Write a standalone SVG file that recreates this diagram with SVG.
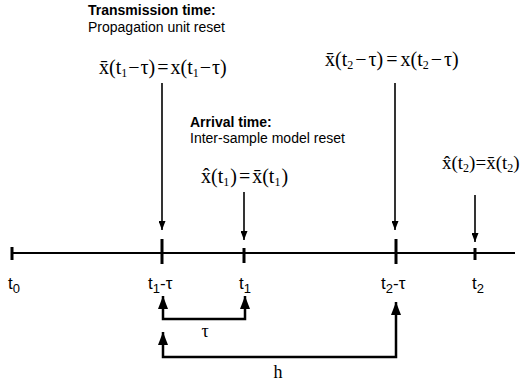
<svg xmlns="http://www.w3.org/2000/svg" width="522" height="387" viewBox="0 0 522 387">
<defs>
<style>
.bold{font-family:"Liberation Sans",Arial,sans-serif;font-weight:bold;font-size:14px;fill:#000}
.plain{font-family:"Liberation Sans",Arial,sans-serif;font-size:14px;fill:#000}
.math{font-family:"Liberation Serif","Times New Roman",serif;font-size:20px;fill:#000}
.lab{font-family:"Liberation Sans",Arial,sans-serif;font-size:17px;fill:#000}
.sub{font-size:13px}
.msub{font-size:12px}
.ln{stroke:#000;fill:none}
</style>
<marker id="sa" markerWidth="9" markerHeight="7" refX="9" refY="3.5" orient="auto" markerUnits="userSpaceOnUse" viewBox="0 0 9 7">
<path d="M0,0 L9,3.5 L0,7 Z" fill="#000"/>
</marker>
<marker id="ba" markerWidth="10" markerHeight="13" refX="5" refY="0" orient="0" markerUnits="userSpaceOnUse" viewBox="0 0 10 13">
<path d="M0,13 L10,13 L5,0 Z" fill="#000"/>
</marker>
</defs>
<rect width="522" height="387" fill="#fff"/>

<g id="timeline">
<line class="ln" x1="12" y1="253" x2="515" y2="253" stroke-width="2"/>
<line class="ln" x1="12" y1="247" x2="12" y2="260" stroke-width="3"/>
<line class="ln" x1="162" y1="239" x2="162" y2="264" stroke-width="3"/>
<line class="ln" x1="244" y1="248" x2="244" y2="263" stroke-width="3"/>
<line class="ln" x1="396" y1="239" x2="396" y2="264" stroke-width="3"/>
<line class="ln" x1="475" y1="248" x2="475" y2="260" stroke-width="3"/>
</g>

<g id="t0"><text class="lab" x="8" y="289">t<tspan class="sub" dy="4">0</tspan></text></g>
<g id="t1-tau"><text class="lab" x="148" y="289">t<tspan class="sub" dy="4">1</tspan><tspan dy="-4">-τ</tspan></text></g>
<g id="t1"><text class="lab" x="239" y="289">t<tspan class="sub" dy="4">1</tspan></text></g>
<g id="t2-tau"><text class="lab" x="381" y="289">t<tspan class="sub" dy="4">2</tspan><tspan dy="-4">-τ</tspan></text></g>
<g id="t2"><text class="lab" x="472" y="289">t<tspan class="sub" dy="4">2</tspan></text></g>

<g id="transmission">
<text class="bold" x="88" y="15">Transmission time:</text>
<text class="plain" x="88" y="32">Propagation unit reset</text>
<text class="math" x="99" y="74">x̄(t<tspan class="msub" dy="3">1</tspan><tspan dy="-3" dx="1">−</tspan><tspan dx="1">τ)</tspan><tspan dx="2">=</tspan><tspan dx="2">x(t</tspan><tspan class="msub" dy="3">1</tspan><tspan dy="-3" dx="1">−</tspan><tspan dx="1">τ)</tspan></text>
</g>

<g id="transmission2">
<text class="math" x="325" y="66">x̄(t<tspan class="msub" dy="3">2</tspan><tspan dy="-3" dx="2">−</tspan><tspan dx="2">τ)</tspan><tspan dx="3">=</tspan><tspan dx="3">x(t</tspan><tspan class="msub" dy="3">2</tspan><tspan dy="-3" dx="2">−</tspan><tspan dx="2">τ)</tspan></text>
</g>

<g id="arrival">
<text class="bold" x="190" y="127">Arrival time:</text>
<text class="plain" x="190" y="143">Inter-sample model reset</text>
<text class="math" x="201" y="183">x̂(t<tspan class="msub" dy="3">1</tspan><tspan dy="-3" dx="1">)</tspan><tspan dx="2">=</tspan><tspan dx="2">x̄(t</tspan><tspan class="msub" dy="3">1</tspan><tspan dy="-3" dx="1">)</tspan></text>
</g>

<g id="arrival2">
<text class="math" x="442" y="169" style="font-size:19px">x̂(t<tspan class="msub" dy="3">2</tspan><tspan dy="-3">)</tspan><tspan>=</tspan><tspan>x̄(t</tspan><tspan class="msub" dy="3">2</tspan><tspan dy="-3">)</tspan></text>
</g>

<g id="tau-label"><text class="math" x="205" y="337" text-anchor="middle" style="font-size:18px">τ</text></g>
<g id="h-label"><text class="math" x="278" y="378" text-anchor="middle" style="font-size:18px">h</text></g>

<g id="connectors">
<line class="ln" x1="162" y1="83" x2="162" y2="230" stroke-width="1.6" marker-end="url(#sa)"/>
<line class="ln" x1="244" y1="192" x2="244" y2="240" stroke-width="1.6" marker-end="url(#sa)"/>
<line class="ln" x1="395" y1="83" x2="395" y2="230" stroke-width="1.6" marker-end="url(#sa)"/>
<line class="ln" x1="475" y1="195" x2="475" y2="242" stroke-width="1.6" marker-end="url(#sa)"/>
<polyline class="ln" points="163,296 163,319 245,319 245,296" stroke-width="2.5" marker-start="url(#ba)" marker-end="url(#ba)"/>
<polyline class="ln" points="163,332 163,357 396,357 396,302" stroke-width="2.5" marker-start="url(#ba)" marker-end="url(#ba)"/>
</g>
</svg>
